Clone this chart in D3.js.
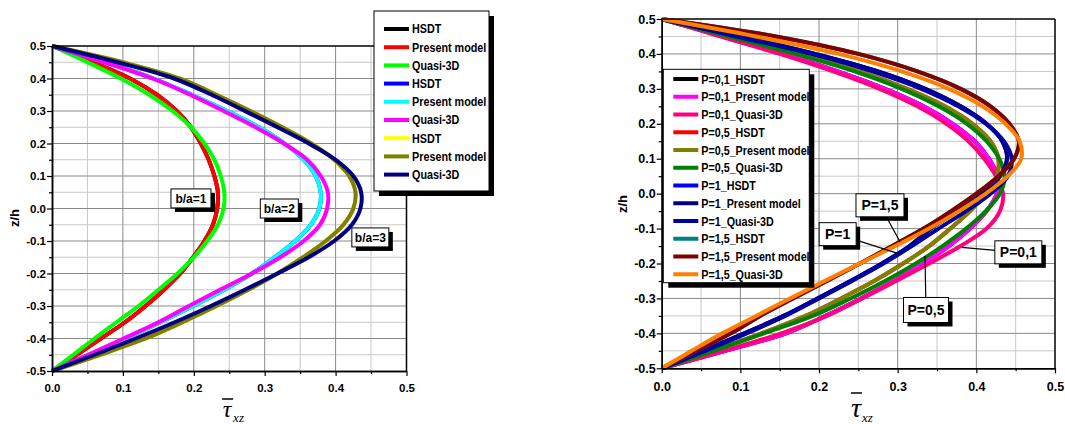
<!DOCTYPE html>
<html>
<head>
<meta charset="utf-8">
<style>
body { margin: 0; background: #fff; }
svg text { font-family: "Liberation Sans", Arial, sans-serif; font-weight: bold; }
</style>
</head>
<body>
<script src="https://cdn.jsdelivr.net/npm/d3@7"></script>
<script>

// z/h levels shared by all curves (top to bottom)
var zh = [0.5, 0.45, 0.4, 0.35, 0.3, 0.25, 0.2, 0.15, 0.1, 0.05, 0, -0.05, -0.1, -0.15, -0.2, -0.25, -0.3, -0.35, -0.4, -0.45, -0.5];

var tauTicks = [0, 0.1, 0.2, 0.3, 0.4, 0.5];
var tauMinor = [0.05, 0.15, 0.25, 0.35, 0.45];
var zTicks = [-0.5, -0.4, -0.3, -0.2, -0.1, 0, 0.1, 0.2, 0.3, 0.4, 0.5];
var zMinor = [-0.45, -0.35, -0.25, -0.15, -0.05, 0.05, 0.15, 0.25, 0.35, 0.45];

// ---- left chart : b/a = 1, 2, 3
var leftNames = ["HSDT", "Present model", "Quasi-3D", "HSDT", "Present model", "Quasi-3D", "HSDT", "Present model", "Quasi-3D"];
var leftColors = ["#000000", "#ff0000", "#00ff00", "#0000ff", "#00ffff", "#ff00ff", "#ffff00", "#808000", "#000080"];

var ba1_hsdt    = [0, 0.058, 0.110, 0.148, 0.176, 0.196, 0.210, 0.221, 0.229, 0.234, 0.233, 0.227, 0.215, 0.199, 0.181, 0.158, 0.132, 0.103, 0.069, 0.035, 0];
var ba1_present = [0, 0.058, 0.110, 0.148, 0.176, 0.196, 0.210, 0.221, 0.229, 0.234, 0.233, 0.227, 0.215, 0.199, 0.181, 0.158, 0.132, 0.103, 0.069, 0.035, 0];
var ba1_quasi   = [0, 0.050, 0.097, 0.137, 0.170, 0.196, 0.215, 0.229, 0.238, 0.243, 0.242, 0.234, 0.219, 0.200, 0.177, 0.150, 0.122, 0.091, 0.060, 0.030, 0];
var ba2_hsdt    = [0, 0.075, 0.143, 0.197, 0.247, 0.292, 0.328, 0.355, 0.372, 0.379, 0.377, 0.365, 0.343, 0.314, 0.282, 0.243, 0.199, 0.153, 0.104, 0.052, 0];
var ba2_present = [0, 0.075, 0.143, 0.197, 0.247, 0.292, 0.328, 0.355, 0.372, 0.379, 0.377, 0.365, 0.343, 0.314, 0.282, 0.243, 0.199, 0.153, 0.104, 0.052, 0];
var ba2_quasi   = [0, 0.074, 0.142, 0.195, 0.242, 0.287, 0.327, 0.360, 0.379, 0.389, 0.388, 0.378, 0.355, 0.322, 0.282, 0.237, 0.193, 0.150, 0.101, 0.051, 0];
var ba3_hsdt    = [0, 0.100, 0.180, 0.232, 0.280, 0.325, 0.366, 0.398, 0.419, 0.428, 0.425, 0.411, 0.386, 0.354, 0.318, 0.277, 0.232, 0.184, 0.132, 0.068, 0];
var ba3_present = [0, 0.100, 0.180, 0.232, 0.280, 0.325, 0.366, 0.398, 0.419, 0.428, 0.425, 0.411, 0.386, 0.354, 0.318, 0.277, 0.232, 0.184, 0.132, 0.068, 0];
var ba3_quasi   = [0, 0.092, 0.172, 0.225, 0.272, 0.318, 0.362, 0.400, 0.425, 0.436, 0.435, 0.423, 0.398, 0.362, 0.318, 0.272, 0.224, 0.173, 0.118, 0.060, 0];

// ---- right chart : P = 0,1 / 0,5 / 1 / 1,5
var rightNames = ["P=0,1_HSDT", "P=0,1_Present model", "P=0,1_Quasi-3D", "P=0,5_HSDT", "P=0,5_Present model", "P=0,5_Quasi-3D",
                  "P=1_HSDT", "P=1_Present model", "P=1_Quasi-3D", "P=1,5_HSDT", "P=1,5_Present model", "P=1,5_Quasi-3D"];
var rightColors = ["#000000", "#ff00ff", "#ff0080", "#ff0000", "#808000", "#008000",
                   "#0000ff", "#000080", "#0000a0", "#008080", "#800000", "#ff8000"];

var p01_hsdt    = [0, 0.078, 0.155, 0.224, 0.284, 0.333, 0.370, 0.398, 0.416, 0.427, 0.426, 0.413, 0.392, 0.365, 0.333, 0.295, 0.253, 0.208, 0.158, 0.081, 0];
var p01_present = [0, 0.078, 0.155, 0.224, 0.284, 0.333, 0.370, 0.398, 0.416, 0.427, 0.426, 0.413, 0.392, 0.365, 0.333, 0.295, 0.253, 0.208, 0.158, 0.081, 0];
var p01_quasi   = [0, 0.075, 0.150, 0.218, 0.277, 0.325, 0.362, 0.390, 0.410, 0.425, 0.434, 0.430, 0.413, 0.380, 0.340, 0.298, 0.255, 0.210, 0.152, 0.078, 0];
var p05_hsdt    = [0, 0.088, 0.175, 0.252, 0.312, 0.360, 0.395, 0.418, 0.428, 0.426, 0.412, 0.392, 0.367, 0.340, 0.307, 0.270, 0.228, 0.183, 0.127, 0.064, 0];
var p05_present = [0, 0.088, 0.175, 0.252, 0.312, 0.360, 0.395, 0.418, 0.428, 0.426, 0.412, 0.392, 0.367, 0.340, 0.307, 0.270, 0.228, 0.183, 0.127, 0.064, 0];
var p05_quasi   = [0, 0.085, 0.170, 0.245, 0.305, 0.352, 0.388, 0.413, 0.429, 0.436, 0.430, 0.412, 0.387, 0.357, 0.323, 0.284, 0.240, 0.192, 0.130, 0.066, 0];
var p1_hsdt     = [0, 0.100, 0.195, 0.275, 0.335, 0.380, 0.413, 0.433, 0.439, 0.430, 0.405, 0.375, 0.342, 0.315, 0.280, 0.240, 0.198, 0.155, 0.105, 0.053, 0];
var p1_present  = [0, 0.100, 0.195, 0.275, 0.335, 0.380, 0.413, 0.433, 0.439, 0.430, 0.405, 0.375, 0.342, 0.315, 0.280, 0.240, 0.198, 0.155, 0.105, 0.053, 0];
var p1_quasi    = [0, 0.095, 0.190, 0.268, 0.330, 0.377, 0.412, 0.435, 0.445, 0.440, 0.418, 0.387, 0.352, 0.318, 0.282, 0.242, 0.200, 0.157, 0.108, 0.055, 0];
var p15_hsdt    = [0, 0.145, 0.250, 0.325, 0.380, 0.418, 0.442, 0.454, 0.448, 0.428, 0.400, 0.368, 0.333, 0.293, 0.252, 0.210, 0.167, 0.125, 0.088, 0.044, 0];
var p15_present = [0, 0.145, 0.250, 0.325, 0.380, 0.418, 0.442, 0.454, 0.448, 0.428, 0.400, 0.368, 0.333, 0.293, 0.252, 0.210, 0.167, 0.125, 0.088, 0.044, 0];
var p15_quasi   = [0, 0.120, 0.225, 0.305, 0.365, 0.408, 0.437, 0.455, 0.457, 0.440, 0.412, 0.378, 0.340, 0.297, 0.252, 0.207, 0.163, 0.120, 0.077, 0.038, 0];

var leftLabels = ["b/a=1", "b/a=2", "b/a=3"];
var rightLabels = ["P=1,5", "P=1", "P=0,1", "P=0,5"];

var svg = d3.select("body").append("svg")
  .attr("width", 1065)
  .attr("height", 424);

function drawPanel(cfg) {
  var x = d3.scaleLinear().domain([0, 0.5]).range([cfg.left, cfg.right]);
  var y = d3.scaleLinear().domain([-0.5, 0.5]).range([cfg.bottom, cfg.top]);
  var g = svg.append("g");

  // grid
  g.selectAll(".vminor").data(tauMinor).enter().append("line")
    .attr("x1", x).attr("x2", x).attr("y1", cfg.top).attr("y2", cfg.bottom)
    .attr("stroke", "#c8c8c8");
  g.selectAll(".hminor").data(zMinor).enter().append("line")
    .attr("y1", y).attr("y2", y).attr("x1", cfg.left).attr("x2", cfg.right)
    .attr("stroke", "#c8c8c8");
  g.selectAll(".vmajor").data(tauTicks.slice(1, -1)).enter().append("line")
    .attr("x1", x).attr("x2", x).attr("y1", cfg.top).attr("y2", cfg.bottom)
    .attr("stroke", "#8a8a8a");
  g.selectAll(".hmajor").data(zTicks.slice(1, -1)).enter().append("line")
    .attr("y1", y).attr("y2", y).attr("x1", cfg.left).attr("x2", cfg.right)
    .attr("stroke", "#8a8a8a");

  // curves
  var line = d3.line()
    .x(function(d) { return x(d[0]); })
    .y(function(d) { return y(d[1]); })
    .curve(d3.curveCatmullRom.alpha(0.5));

  cfg.series.forEach(function(s, i) {
    g.append("path")
      .datum(zh.map(function(z, k) { return [s[k], z]; }))
      .attr("d", line)
      .attr("fill", "none")
      .attr("stroke", cfg.colors[i])
      .attr("stroke-width", 4)
      .attr("stroke-linejoin", "round");
  });

  // frame top and right
  g.append("line").attr("x1", cfg.left).attr("x2", cfg.right).attr("y1", cfg.top).attr("y2", cfg.top)
    .attr("stroke", "#000").attr("stroke-width", 1.5);
  g.append("line").attr("x1", cfg.right).attr("x2", cfg.right).attr("y1", cfg.top).attr("y2", cfg.bottom)
    .attr("stroke", "#000").attr("stroke-width", 1.5);

  // axes
  var fmt = function(d) { return d.toFixed(1); };
  var xa = g.append("g").attr("transform", "translate(0," + cfg.bottom + ")")
    .call(d3.axisBottom(x).tickValues(tauTicks).tickFormat(fmt).tickSize(5).tickSizeOuter(0).tickPadding(cfg.xpad));
  g.append("g").attr("transform", "translate(0," + cfg.bottom + ")")
    .call(d3.axisBottom(x).tickValues(tauMinor).tickFormat("").tickSize(3).tickSizeOuter(0));
  var ya = g.append("g").attr("transform", "translate(" + cfg.left + ",0)")
    .call(d3.axisLeft(y).tickValues(zTicks).tickFormat(fmt).tickSize(5).tickSizeOuter(0).tickPadding(1));
  g.append("g").attr("transform", "translate(" + cfg.left + ",0)")
    .call(d3.axisLeft(y).tickValues(zMinor).tickFormat("").tickSize(3).tickSizeOuter(0));

  g.selectAll(".domain").attr("stroke-width", 1.5);
  g.selectAll(".tick line").attr("stroke-width", 1.2);
  xa.selectAll("text").attr("font-family", null).style("font-size", cfg.tickSize + "px");
  ya.selectAll("text").attr("font-family", null).style("font-size", cfg.tickSize + "px");

  // axis titles
  g.append("text")
    .attr("transform", "translate(" + cfg.zhX + "," + cfg.zhY + ") rotate(-90)")
    .attr("text-anchor", "middle")
    .attr("dy", "0.35em")
    .style("font-size", "13px")
    .text("z/h");

  var tx = x(0.247);
  g.append("text")
    .attr("x", tx).attr("y", cfg.tauBase)
    .attr("text-anchor", "middle")
    .style("font-family", "'Liberation Serif', 'Times New Roman', serif")
    .style("font-weight", "normal").style("font-style", "italic")
    .style("font-size", cfg.tauSize + "px")
    .text("τ");
  g.append("line")
    .attr("x1", tx - 5).attr("x2", tx + 6)
    .attr("y1", cfg.barY).attr("y2", cfg.barY)
    .attr("stroke", "#000").attr("stroke-width", 1.5);
  g.append("text")
    .attr("x", tx + 6).attr("y", 422)
    .style("font-family", "'Liberation Serif', 'Times New Roman', serif")
    .style("font-weight", "normal").style("font-style", "italic")
    .style("font-size", "13px")
    .text("xz");

  // legend
  var L = cfg.legend;
  var lg = g.append("g");
  lg.append("rect").attr("x", L.x + 5).attr("y", L.y + 5).attr("width", L.w).attr("height", L.h).attr("fill", "#000");
  lg.append("rect").attr("x", L.x).attr("y", L.y).attr("width", L.w).attr("height", L.h)
    .attr("fill", "#fff").attr("stroke", "#000").attr("stroke-width", 1);
  cfg.names.forEach(function(n, i) {
    var yy = L.first + i * L.step;
    lg.append("line").attr("x1", L.x + 10).attr("x2", L.x + 35).attr("y1", yy).attr("y2", yy)
      .attr("stroke", cfg.colors[i]).attr("stroke-width", 4);
    lg.append("text")
      .attr("transform", "translate(" + (L.x + 38) + "," + yy + ") scale(" + L.sx + ",1)")
      .attr("dy", "0.36em")
      .style("font-size", L.font + "px").text(n);
  });

  // annotations
  cfg.notes.forEach(function(a) {
    if (a.pt) {
      g.append("line")
        .attr("x1", x(a.at[0])).attr("y1", y(a.at[1]))
        .attr("x2", x(a.pt[0])).attr("y2", y(a.pt[1]))
        .attr("stroke", "#000").attr("stroke-width", 1.2);
    }
    var cx = x(a.at[0]), cy = y(a.at[1]);
    g.append("rect").attr("x", cx - a.w / 2 + 4).attr("y", cy - a.h / 2 + 4)
      .attr("width", a.w).attr("height", a.h).attr("fill", "#000");
    g.append("rect").attr("x", cx - a.w / 2).attr("y", cy - a.h / 2)
      .attr("width", a.w).attr("height", a.h).attr("fill", "#fff").attr("stroke", "#000");
    g.append("text").attr("x", cx).attr("y", cy).attr("dy", "0.36em")
      .attr("text-anchor", "middle").style("font-size", a.font + "px").text(a.text);
  });
}

drawPanel({
  left: 52, right: 406.5, top: 46, bottom: 371,
  series: [ba1_hsdt, ba1_present, ba1_quasi, ba2_hsdt, ba2_present, ba2_quasi, ba3_hsdt, ba3_present, ba3_quasi],
  colors: leftColors,
  names: leftNames,
  tickSize: 11.5, xpad: 8,
  zhX: 14, zhY: 218,
  tauBase: 417, tauSize: 24, barY: 399,
  legend: { x: 374, y: 11, w: 115, h: 180, first: 29, step: 18.2, font: 12, sx: 0.9 },
  notes: [
    { text: leftLabels[0], at: [0.196, 0.031], w: 40, h: 19, font: 12 },
    { text: leftLabels[1], at: [0.3206, 0.0], w: 38, h: 19, font: 12 },
    { text: leftLabels[2], at: [0.449, -0.089], w: 37, h: 19, font: 12 }
  ]
});

drawPanel({
  left: 661.7, right: 1055, top: 19, bottom: 368.3,
  series: [p01_hsdt, p01_present, p01_quasi, p05_hsdt, p05_present, p05_quasi, p1_hsdt, p1_present, p1_quasi, p15_hsdt, p15_present, p15_quasi],
  colors: rightColors,
  names: rightNames,
  tickSize: 12.5, xpad: 9,
  zhX: 622, zhY: 204,
  tauBase: 417, tauSize: 28, barY: 393,
  legend: { x: 663.3, y: 69.3, w: 146, h: 213.4, first: 79, step: 17.75, font: 12.5, sx: 0.86 },
  notes: [
    { text: rightLabels[0], at: [0.2775, -0.0334], pt: [0.303, -0.1376], w: 48, h: 23, font: 14 },
    { text: rightLabels[1], at: [0.2237, -0.116], pt: [0.303, -0.173], w: 37, h: 23, font: 14 },
    { text: rightLabels[2], at: [0.4534, -0.168], pt: [0.3814, -0.1536], w: 47, h: 23, font: 14 },
    { text: rightLabels[3], at: [0.336, -0.333], pt: [0.3347, -0.1785], w: 45, h: 25, font: 14 }
  ]
});

</script>
</body>
</html>
